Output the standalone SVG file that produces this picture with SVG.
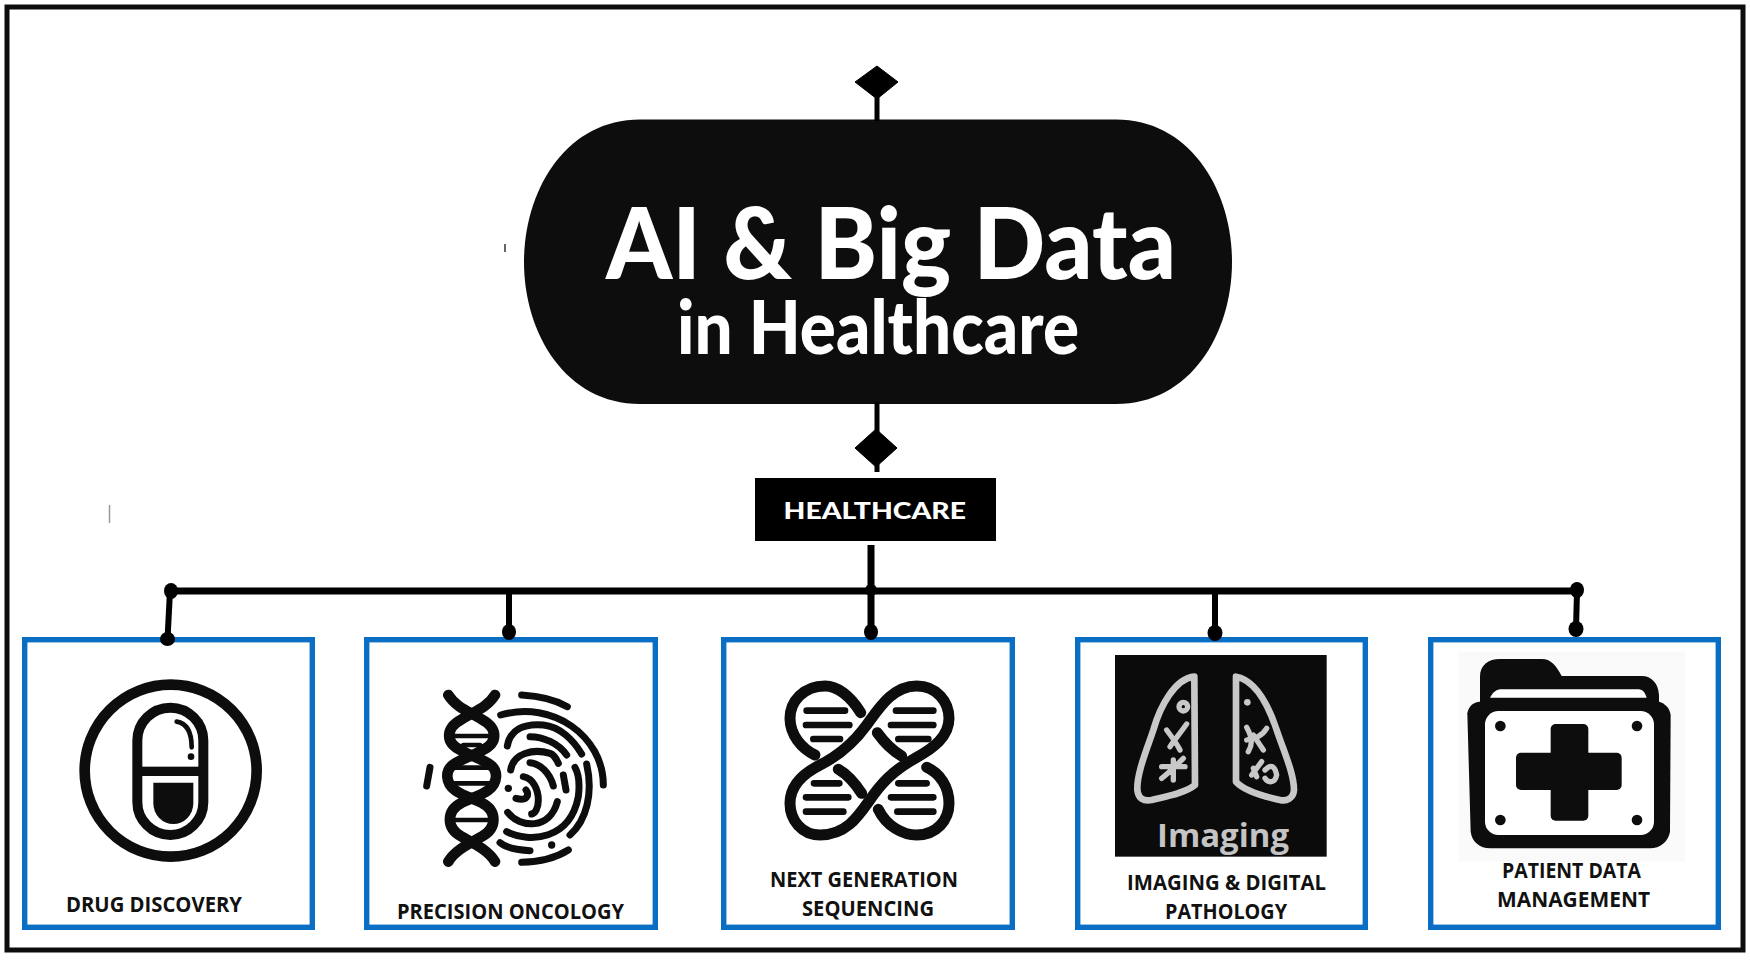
<svg xmlns="http://www.w3.org/2000/svg" width="1750" height="961" viewBox="0 0 1750 961">
<style>
.box{fill:#fff;stroke:#0a6ec4;stroke-width:5.4}
.lbl{font-family:"Open Sans","Liberation Sans",sans-serif;font-weight:700;font-size:21.500px;fill:#111}
.ttl{font-family:Lato,"Open Sans",sans-serif;font-weight:900;fill:#fff}
.ln{fill:none;stroke:#000;stroke-linecap:butt}
.ic{fill:none;stroke:#0d0d0d;stroke-linecap:round;stroke-linejoin:round}
.k{fill:#0d0d0d}
.w{fill:#fff}
.g{fill:none;stroke:#c8c8c8;stroke-linecap:round;stroke-linejoin:round}
</style>
<rect width="1750" height="961" fill="#fff"/>
<rect id="frame" x="7" y="7" width="1736" height="943" fill="none" stroke="#0d0d0d" stroke-width="5"/>
<g id="specks" stroke="#999" fill="none"><path d="M109.500 505V523" stroke-width="1.500"/><path d="M505 244V252" stroke="#333" stroke-width="1.500"/></g>
<g id="node-title">
<path class="k" d="M640 119.500H1116C1190 119.500 1232 190 1232 262C1232 334 1190 404 1116 404H640C566 404 524 334 524 262C524 190 566 119.500 640 119.500Z"/>
<text class="ttl" x="606" y="279" font-size="100" textLength="570" lengthAdjust="spacingAndGlyphs">AI &amp; Big Data</text>
<text class="ttl" x="677" y="354" font-size="74" textLength="402" lengthAdjust="spacingAndGlyphs">in Healthcare</text>
</g>
<g id="node-healthcare">
<rect x="755" y="478" width="241" height="63" fill="#000"/>
<text class="ttl" x="783.500" y="519" font-size="22.500" textLength="182.500" lengthAdjust="spacingAndGlyphs">HEALTHCARE</text>
</g>
<g id="node-drug">
<rect class="box" x="24.700" y="639.700" width="287.600" height="287.600"/>
<g transform="translate(60 660) scale(.33333)">
<circle class="ic" cx="332" cy="332" r="258" stroke-width="32"/>
<rect class="ic" x="232" y="143" width="198" height="382" rx="99" stroke-width="30"/>
<rect class="k" x="232" y="320" width="198" height="28"/>
<path class="k" d="M280 368H400V430A60 62 0 0 1 280 430Z"/>
<path class="ic" stroke-width="14" d="M350 185C380 190 395 215 395 262"/>
<circle class="k" cx="393" cy="290" r="10"/>
</g>
<text class="lbl" x="66" y="912" textLength="176" lengthAdjust="spacingAndGlyphs">DRUG DISCOVERY</text>
</g>
<g id="node-oncology">
<rect class="box" x="366.700" y="639.700" width="288.600" height="287.600"/>
<g transform="translate(410 680) scale(.33333)">
<g class="ic" stroke-width="32">
<path d="M115 45C140 85 180 95 215 118C265 145 265 190 215 212C150 245 110 250 112 290C115 335 165 345 215 368C262 392 262 445 215 470C180 490 135 510 115 545"/>
<path d="M255 45C230 85 190 95 155 118C105 145 105 190 155 212C220 245 260 250 258 290C255 335 205 345 155 368C108 392 108 445 155 470C190 490 235 510 255 545"/>
</g>
<g class="ic" stroke-width="14" stroke-linecap="butt"><path d="M130 168H240M120 263H250M120 310H250M125 420H245M160 195H210M160 345H210"/></g>
<g class="ic" stroke-width="21">
<path d="M335 45Q420 50 472 80"/>
<path d="M272 105C430 60 580 170 580 315"/>
<path d="M292 198C300 150 340 130 400 135C450 140 490 180 515 222"/>
<path d="M360 170C400 170 445 190 470 225"/>
<path d="M302 270C310 220 370 205 420 220C435 225 440 240 445 250"/>
<path d="M360 248C390 250 420 280 430 318"/>
<path d="M340 290C370 295 385 330 385 360C385 385 375 400 365 402"/>
<path d="M348 330C360 345 350 365 318 355"/>
<path d="M460 285L468 330"/>
<path d="M293 397C330 445 420 450 442 365"/>
<path d="M290 455C360 490 480 480 505 350C510 310 505 280 495 262"/>
<path d="M480 465C530 420 550 340 530 252"/>
<path d="M270 488C290 505 320 510 360 512"/>
<path d="M335 547Q420 545 475 510"/>
<path d="M60 262L50 318"/>
</g>
<circle class="k" cx="295" cy="325" r="11"/><circle class="k" cx="425" cy="495" r="11"/>
</g>
<text class="lbl" x="397" y="919" textLength="227" lengthAdjust="spacingAndGlyphs">PRECISION ONCOLOGY</text>
</g>
<g id="node-ngs">
<rect class="box" x="723.700" y="639.700" width="288.600" height="287.600"/>
<g transform="translate(770 670) scale(.33333)">
<g class="ic" stroke-width="33" stroke-linecap="butt">
<path d="M272 128C240 75 200 48 165 48C100 48 60 95 60 145C60 195 95 235 135 255"/>
<path d="M440 48C500 48 537 95 537 145C537 200 490 235 440 262C390 290 350 320 310 375C270 430 235 495 150 495C95 495 60 450 60 400C60 345 100 310 150 285C200 260 250 220 290 165C330 110 370 48 440 48Z"/>
<path d="M322 188C345 220 365 240 395 258"/>
<path d="M205 298C235 315 255 340 275 370"/>
<path d="M325 418C350 470 400 495 440 495C500 495 537 450 537 400C537 350 510 310 470 292"/>
</g>
<g class="ic" stroke-width="20">
<path d="M110 122H225M108 165H238M130 207H210M378 122H490M363 165H490M385 207H475M132 340H208M108 382H235M108 425H220M385 340H470M363 382H490M382 425H490"/>
</g>
</g>
<text class="lbl" x="770" y="887" textLength="188" lengthAdjust="spacingAndGlyphs">NEXT GENERATION</text>
<text class="lbl" x="802" y="916" textLength="132" lengthAdjust="spacingAndGlyphs">SEQUENCING</text>
</g>
<g id="node-imaging">
<rect class="box" x="1077.700" y="639.700" width="287.600" height="287.600"/>
<g transform="translate(1105 650) scale(.33333)">
<rect x="30" y="15" width="635" height="605" fill="#0b0b0b"/>
<g class="g" stroke-width="20">
<path d="M268 80C210 85 165 170 145 240C125 300 95 370 97 420C100 445 115 455 140 450C180 440 240 430 270 405Z"/>
<path d="M393 80C450 90 490 165 515 240C535 300 567 370 567 420C565 445 545 455 525 450C480 440 420 425 393 395Z"/>
</g>
<g class="g" stroke-width="16">
<circle cx="235" cy="170" r="13"/>
<path d="M245 222C225 250 205 275 195 290M185 240C200 260 215 280 225 300M170 350L240 350M205 330L205 390M170 385C190 370 220 340 235 325"/>
<path d="M425 232C440 260 445 280 430 305M485 235C470 260 450 265 425 270M445 255L475 300M440 375L470 335M445 355L455 380M480 360C500 340 510 350 515 375C510 400 490 400 480 385"/>
</g>
<circle cx="427" cy="157" r="10" fill="#c8c8c8"/>
</g>
<text x="1157" y="846.500" font-family="Open Sans,sans-serif" font-weight="700" font-size="33" fill="#c4c4c4" textLength="132" lengthAdjust="spacingAndGlyphs">Imaging</text>
<text class="lbl" x="1127" y="890" textLength="199" lengthAdjust="spacingAndGlyphs">IMAGING &amp; DIGITAL</text>
<text class="lbl" x="1165" y="919" textLength="122" lengthAdjust="spacingAndGlyphs">PATHOLOGY</text>
</g>
<g id="node-patient">
<rect class="box" x="1430.700" y="639.700" width="287.600" height="287.600"/>
<g transform="translate(1450 645) scale(.33333)">
<rect x="25" y="20" width="680" height="630" fill="#fafafa"/>
<path class="k" d="M90 175V95C90 60 115 42 150 42H275C305 42 320 65 335 93H575C605 93 625 115 627 150V175Z"/>
<path class="k" d="M52 205C55 185 70 170 90 170H627C645 175 660 190 662 210L660 560C655 590 630 610 600 610H120C90 610 65 590 62 560Z"/>
<path class="w" d="M120 158C130 140 140 133 155 133H565C580 133 585 145 590 158Z"/>
<rect class="w" x="105" y="198" width="507" height="372" rx="40"/>
<g class="k"><circle cx="151" cy="243" r="16"/><circle cx="561" cy="243" r="16"/><circle cx="151" cy="525" r="16"/><circle cx="561" cy="525" r="16"/>
<rect x="302" y="237" width="113" height="290" rx="15"/><rect x="198" y="323" width="317" height="112" rx="15"/></g>
</g>
<text class="lbl" x="1502" y="878" textLength="139" lengthAdjust="spacingAndGlyphs">PATIENT DATA</text>
<text class="lbl" x="1497" y="907" textLength="153" lengthAdjust="spacingAndGlyphs">MANAGEMENT</text>
</g>
<g id="connectors">
<path class="ln" stroke-width="5" d="M877 92V121"/>
<path class="ln" stroke-width="5" d="M877 402V472"/>
<path class="ln" stroke-width="7" d="M871 545V632"/>
<path class="ln" stroke-width="7" d="M171 591H1577"/>
<path class="ln" stroke-width="6" d="M170 591L167.500 639"/>
<path class="ln" stroke-width="6" d="M509 591V632"/>
<path class="ln" stroke-width="6" d="M1215 591V633"/>
<path class="ln" stroke-width="6" d="M1577 591L1576 629"/>
<g fill="#000"><ellipse cx="171" cy="591" rx="7" ry="8"/><ellipse cx="167.500" cy="639" rx="7.500" ry="7"/><ellipse cx="509" cy="632" rx="7" ry="8"/><ellipse cx="871" cy="632" rx="7" ry="8"/><ellipse cx="1215" cy="633" rx="7.500" ry="8"/><ellipse cx="1577" cy="590" rx="7" ry="8"/><ellipse cx="1576" cy="629" rx="7.500" ry="8"/><ellipse cx="871" cy="590" rx="6" ry="6"/></g>
<path d="M877 66L898 82L877 99L855 82Z" fill="#000" stroke="#000" stroke-linejoin="round"/>
<path d="M876 429L897 448L876 467L855 448Z" fill="#000" stroke="#000" stroke-linejoin="round"/>
</g>
</svg>
